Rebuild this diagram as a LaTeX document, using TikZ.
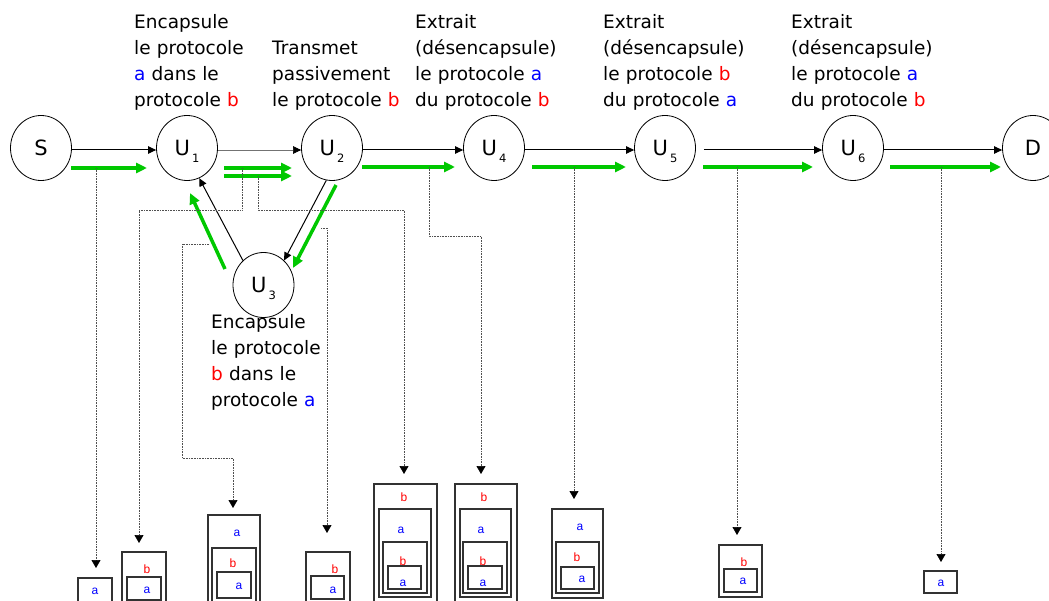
\documentclass[tikz,border=0pt]{standalone}
\usepackage{fontspec}
\setmainfont{DejaVu Sans}
\newfontfamily\arialf{Liberation Sans}
\usetikzlibrary{arrows.meta,shapes.geometric,calc}
\definecolor{pblue}{RGB}{0,0,255}
\definecolor{pred}{RGB}{255,0,0}
\definecolor{pgreen}{RGB}{0,200,0}
\definecolor{dotgray}{RGB}{80,80,80}
\definecolor{boxgray}{RGB}{50,50,50}
\newcommand{\protA}{\textcolor{pblue}{a}}
\newcommand{\protB}{\textcolor{pred}{b}}
\newcommand{\usub}[1]{U\kern2pt\smash{\raisebox{-6.5pt}{\fontsize{11.5}{11.5}\selectfont #1}}}
\begin{document}
\begin{tikzpicture}[x=1pt,y=-1pt,
  site/.style={ellipse, draw, line width=0.8pt, minimum width=61pt, minimum height=65pt, inner sep=0pt, font=\fontsize{21}{21}\selectfont},
  blk/.style={draw=black, line width=1pt, -{Triangle[length=8pt,width=7.5pt]}},
  thinblk/.style={draw=black!55, line width=0.6pt, -{Triangle[length=8pt,width=7.5pt,color=black]}},
  grn/.style={draw=pgreen, line width=3.5pt, -{Triangle[length=11pt,width=10pt]}},
  tracer/.style={draw=dotgray, line width=0.7pt, dash pattern=on 0.8pt off 0.8pt, -{Triangle[length=8pt,width=9pt,color=black]}},
  pk/.style={draw=boxgray, line width=1.1pt},
  la/.style={text=pblue, inner sep=0pt, font=\arialf\fontsize{12}{12}\selectfont},
  lb/.style={text=pred, inner sep=0pt, font=\arialf\fontsize{12}{12}\selectfont},
  desc/.style={anchor=base west, text width=170pt, align=left, inner sep=0pt, font=\fontsize{18.5}{25.7}\selectfont}
]
\useasboundingbox (0,0) rectangle (1049,601);

% descriptions
\node[desc] (t1) at (134,29) {Encapsule\\le protocole\\\protA{} dans le\\protocole \protB};
\node[desc] (t2) at (272,55) {Transmet\\passivement\\le protocole \protB};
\node[desc] (t4) at (415,29) {Extrait\\(désencapsule)\\le protocole \protA\\du protocole \protB};
\node[desc] (t5) at (603,29) {Extrait\\(désencapsule)\\le protocole \protB\\du protocole \protA};
\node[desc] (t6) at (791,29) {Extrait\\(désencapsule)\\le protocole \protA\\du protocole \protB};
\node[desc] (t3) at (211,329) {Encapsule\\le protocole\\\protB{} dans le\\protocole \protA};

% sites
\node[site] (S)  at (41,148)  {S};
\node[site] (U1) at (187,148) {\usub{1}};
\node[site] (U2) at (332,148) {\usub{2}};
\node[site] (U3) at (263.5,285) {\usub{3}};
\node[site] (U4) at (494,148) {\usub{4}};
\node[site] (U5) at (665,148) {\usub{5}};
\node[site] (U6) at (853,148) {\usub{6}};
\node[site] (D)  at (1033,148) {D};

% black connectors
\draw[blk] ([yshift=-2pt]S.east) -- ([yshift=-2pt]U1.west);
\draw[thinblk] ([yshift=-2pt]U1.east) -- ([yshift=-2pt]U2.west);
\draw[blk] ([yshift=-2pt]U2.east) -- ([yshift=-2pt]U4.west);
\draw[blk] ([yshift=-2pt]U4.east) -- ([yshift=-2pt]U5.west);
\draw[blk, shorten <=8pt] ([yshift=-2pt]U5.east) -- ([yshift=-2pt]U6.west);
\draw[blk] ([yshift=-2pt]U6.east) -- ([yshift=-2pt]D.west);
\draw[blk] (U3.130) -- (U1.292);
\draw[blk] (U2.260) -- (U3.50);

% green flow coordinates
\coordinate (g1s) at (71,168);  \coordinate (g1e) at (147,168);
\coordinate (g2s) at (224,168); \coordinate (g2e) at (292,168);
\coordinate (g2s') at (224,176); \coordinate (g2e') at (292,176);
\coordinate (g3s) at (362,167); \coordinate (g3e) at (455,167);
\coordinate (g4s) at (532,167); \coordinate (g4e) at (626,167);
\coordinate (g5s) at (703,167); \coordinate (g5e) at (813,167);
\coordinate (g6s) at (890,167); \coordinate (g6e) at (1001,167);
\coordinate (gus) at (225,269); \coordinate (gue) at (190,193);
\coordinate (gds) at (336,185); \coordinate (gde) at (293,268);

\draw[grn] (g1s) -- (g1e);
\draw[grn] (g2s) -- (g2e);
\draw[grn] (g2s') -- (g2e');
\draw[grn] (g3s) -- (g3e);
\draw[grn] (g4s) -- (g4e);
\draw[grn] (g5s) -- (g5e);
\draw[grn] (g6s) -- (g6e);
\draw[grn] (gus) -- (gue);
\draw[grn] (gds) -- (gde);

% tracer start / end points
\coordinate (p1) at (96,168);   \coordinate (q1) at (96,568);
\coordinate (p2) at (242,168);  \coordinate (q2) at (139,543);
\coordinate (p3) at (258,176);  \coordinate (q3) at (404,474);
\coordinate (p4) at (209,244);  \coordinate (q4) at (233,508);
\coordinate (p5) at (321,228);  \coordinate (q5) at (327,533);
\coordinate (p6) at (429,167);  \coordinate (q6) at (481,474);
\coordinate (p7) at (574,167);  \coordinate (q7) at (574,499);
\coordinate (p8) at (737,167);  \coordinate (q8) at (737,535);
\coordinate (p9) at (941,167);  \coordinate (q9) at (941,562);

\draw[tracer] (p1) -- (q1);
\draw[tracer] (p2) -- (242,210) -| (q2);
\draw[tracer] (p3) -- (258,210) -| (q3);
\draw[tracer] (p4) -- (182,244) -- (182,458) -| (q4);
\draw[tracer] (p5) -| (q5);
\draw[tracer] (p6) -- (429,236) -| (q6);
\draw[tracer] (p7) -- (q7);
\draw[tracer] (p8) -- (q8);
\draw[tracer] (p9) -- (q9);

% packets
\draw[pk] (78,578) rectangle (112,606);
\node[la] (k1a) at (95,591) {a};

\draw[pk] (122,552) rectangle (166,606);
\draw[pk] (127,577) rectangle (161,600);
\node[lb] (k2b) at (147,569) {b};
\node[la] (k2a) at (147,590) {a};

\draw[pk] (208,515) rectangle (260,606);
\draw[pk] (212,548) rectangle (256,603);
\draw[pk] (217,572) rectangle (251,598);
\node[la] (k3a) at (237,533) {a};
\node[lb] (k3b) at (233,563) {b};
\node[la] (k3c) at (239,586) {a};

\draw[pk] (306,552) rectangle (350,606);
\draw[pk] (311,576) rectangle (344,599);
\node[lb] (k4b) at (335,569) {b};
\node[la] (k4a) at (333,590) {a};

\draw[pk] (374,484) rectangle (437,606);
\draw[pk] (379,509) rectangle (431,597);
\draw[pk] (383,542) rectangle (427,593);
\draw[pk] (388,566) rectangle (421,589);
\node[lb] (k5b) at (404,497) {b};
\node[la] (k5a) at (401,530) {a};
\node[lb] (k5c) at (403,561) {b};
\node[la] (k5d) at (403,583) {a};

\draw[pk] (455,484) rectangle (517,606);
\draw[pk] (460,509) rectangle (511,597);
\draw[pk] (463,542) rectangle (507,593);
\draw[pk] (468,566) rectangle (502,589);
\node[lb] (k6b) at (484,497) {b};
\node[la] (k6a) at (481,530) {a};
\node[lb] (k6c) at (483,561) {b};
\node[la] (k6d) at (483,583) {a};

\draw[pk] (552,509) rectangle (603,598);
\draw[pk] (556,542) rectangle (599,593);
\draw[pk] (561,567) rectangle (594,589);
\node[la] (k7a) at (580,527) {a};
\node[lb] (k7b) at (577,557) {b};
\node[la] (k7c) at (582,579) {a};

\draw[pk] (719,545) rectangle (762,597);
\draw[pk] (724,569) rectangle (757,592);
\node[lb] (k8b) at (744,562) {b};
\node[la] (k8a) at (743,581) {a};

\draw[pk] (924,571) rectangle (957,593);
\node[la] (k9a) at (941,583) {a};
\end{tikzpicture}
\end{document}
